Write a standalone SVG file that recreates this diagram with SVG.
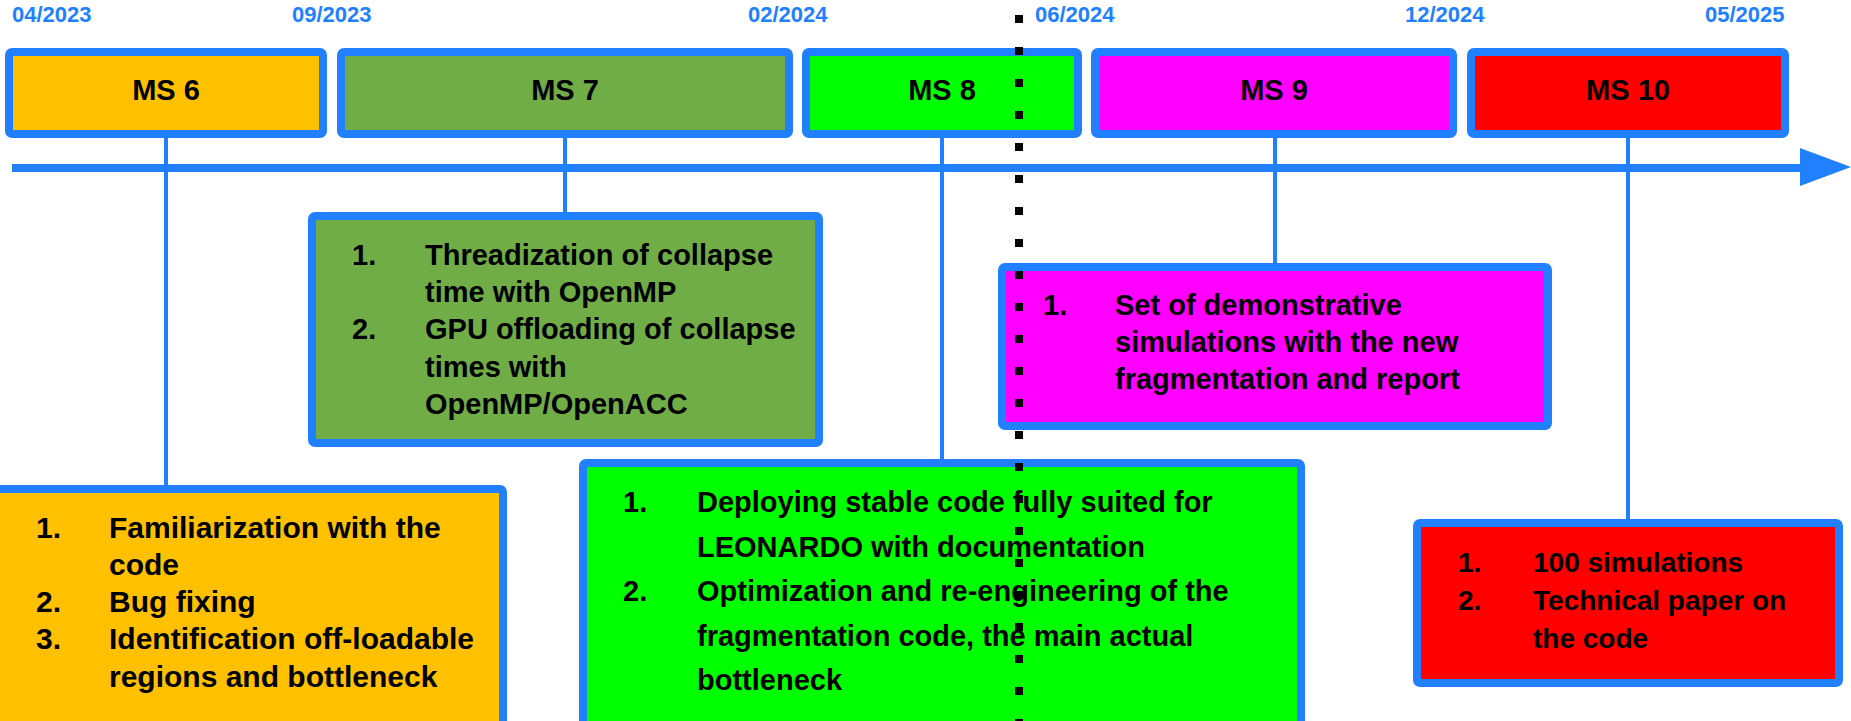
<svg xmlns="http://www.w3.org/2000/svg" width="1851" height="721" viewBox="0 0 1851 721">
<style>
.box{stroke:#2080FF;stroke-width:8;}
.date{font-family:"Liberation Sans",Arial,sans-serif;font-weight:bold;font-size:22px;fill:#2080FF;}
.hd{font-family:"Liberation Sans",Arial,sans-serif;font-weight:bold;font-size:29px;fill:#000;text-anchor:middle;}
.t{font-family:"Liberation Sans",Arial,sans-serif;font-weight:bold;font-size:29px;fill:#000;}
.conn{stroke:#2080FF;stroke-width:4;fill:none;}
</style>
<rect width="1851" height="721" fill="#FFFFFF"/>
<g id="dates">
<text class="date" x="12" y="22">04/2023</text>
<text class="date" x="292" y="22">09/2023</text>
<text class="date" x="748" y="22">02/2024</text>
<text class="date" x="1035" y="22">06/2024</text>
<text class="date" x="1405" y="22">12/2024</text>
<text class="date" x="1705" y="22">05/2025</text>
</g>
<g id="connectors">
<line class="conn" x1="166" y1="138" x2="166" y2="486"/>
<line class="conn" x1="565" y1="138" x2="565" y2="213"/>
<line class="conn" x1="942" y1="138" x2="942" y2="460"/>
<line class="conn" x1="1275" y1="138" x2="1275" y2="264"/>
<line class="conn" x1="1628" y1="138" x2="1628" y2="520"/>
<line x1="12" y1="168" x2="1802" y2="168" stroke="#2080FF" stroke-width="8"/>
<polygon points="1800,148 1851,167 1800,186" fill="#2080FF"/>
</g>
<g id="ms6">
<rect class="box" x="9" y="52" width="314" height="82" rx="3" fill="#FFC000"/>
<text class="hd" x="166" y="100">MS 6</text>
</g>
<g id="ms7">
<rect class="box" x="341" y="52" width="448" height="82" rx="3" fill="#70AD47"/>
<text class="hd" x="565" y="100">MS 7</text>
</g>
<g id="ms8">
<rect class="box" x="806" y="52" width="272" height="82" rx="3" fill="#00FF00"/>
<text class="hd" x="942" y="100">MS 8</text>
</g>
<g id="ms9">
<rect class="box" x="1095" y="52" width="358" height="82" rx="3" fill="#FF00FF"/>
<text class="hd" x="1274" y="100">MS 9</text>
</g>
<g id="ms10">
<rect class="box" x="1471" y="52" width="314" height="82" rx="3" fill="#FF0000"/>
<text class="hd" x="1628" y="100">MS 10</text>
</g>
<g id="ms6-tasks">
<rect class="box" x="-20" y="489" width="523" height="300" rx="3" fill="#FFC000"/>
<text class="t" style="font-size:30px">
<tspan x="36" y="538">1.</tspan><tspan x="109" y="538">Familiarization with the</tspan>
<tspan x="109" y="575">code</tspan>
<tspan x="36" y="612">2.</tspan><tspan x="109" y="612">Bug fixing</tspan>
<tspan x="36" y="649">3.</tspan><tspan x="109" y="649">Identification off-loadable</tspan>
<tspan x="109" y="687">regions and bottleneck</tspan>
</text>
</g>
<g id="ms7-tasks">
<rect class="box" x="312" y="216" width="507" height="227" rx="3" fill="#70AD47"/>
<text class="t">
<tspan x="352" y="265">1.</tspan><tspan x="425" y="265">Threadization of collapse</tspan>
<tspan x="425" y="302">time with OpenMP</tspan>
<tspan x="352" y="339">2.</tspan><tspan x="425" y="339">GPU offloading of collapse</tspan>
<tspan x="425" y="377">times with</tspan>
<tspan x="425" y="414">OpenMP/OpenACC</tspan>
</text>
</g>
<g id="ms8-tasks">
<rect class="box" x="583" y="463" width="718" height="300" rx="3" fill="#00FF00"/>
<text class="t">
<tspan x="623" y="512">1.</tspan><tspan x="697" y="512">Deploying stable code fully suited for</tspan>
<tspan x="697" y="557">LEONARDO with documentation</tspan>
<tspan x="623" y="601">2.</tspan><tspan x="697" y="601">Optimization and re-engineering of the</tspan>
<tspan x="697" y="646">fragmentation code, the main actual</tspan>
<tspan x="697" y="690">bottleneck</tspan>
</text>
</g>
<g id="ms9-tasks">
<rect class="box" x="1002" y="267" width="546" height="159" rx="3" fill="#FF00FF"/>
<text class="t">
<tspan x="1043" y="315">1.</tspan><tspan x="1115" y="315">Set of demonstrative</tspan>
<tspan x="1115" y="352">simulations with the new</tspan>
<tspan x="1115" y="389">fragmentation and report</tspan>
</text>
</g>
<g id="ms10-tasks">
<rect class="box" x="1417" y="523" width="422" height="160" rx="3" fill="#FF0000"/>
<text class="t" style="font-size:28px">
<tspan x="1458" y="572">1.</tspan><tspan x="1533" y="572">100 simulations</tspan>
<tspan x="1458" y="610">2.</tspan><tspan x="1533" y="610">Technical paper on</tspan>
<tspan x="1533" y="648">the code</tspan>
</text>
</g>
<g id="today-marker">
<line x1="1019" y1="15" x2="1019" y2="721" stroke="#000000" stroke-width="8" stroke-dasharray="8 24"/>
</g>
</svg>
